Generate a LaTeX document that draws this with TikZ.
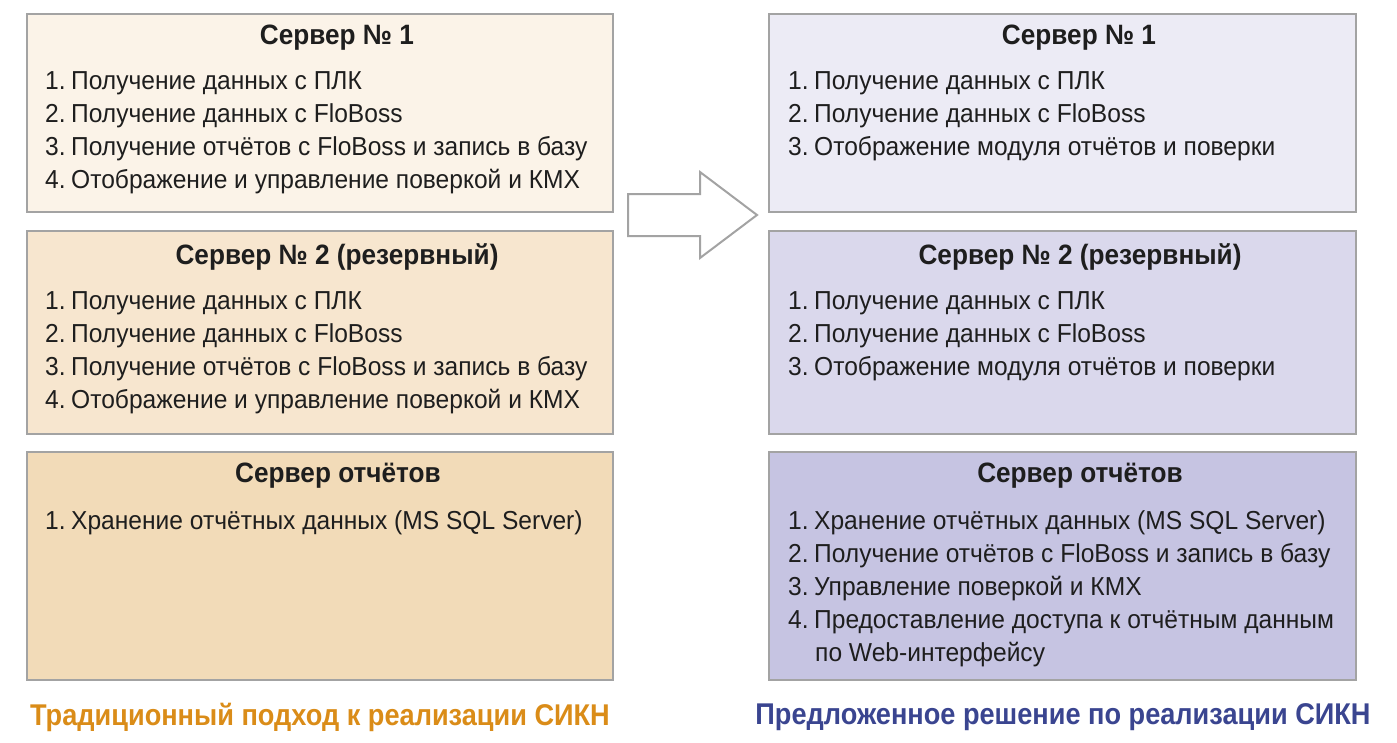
\documentclass[tikz,border=0pt]{standalone}
\usepackage{fontspec}
\setmainfont{Liberation Sans}[FakeStretch=0.945]
\newfontfamily\headfont{Liberation Sans}[FakeStretch=0.935]
\newfontfamily\legfont{Liberation Sans}[FakeStretch=0.905]
\newcommand\nsp{\hspace{5.5pt}}
\definecolor{lA}{HTML}{FBF3E8}
\definecolor{lB}{HTML}{F7E6CF}
\definecolor{lC}{HTML}{F2DBB8}
\definecolor{rA}{HTML}{ECEBF5}
\definecolor{rB}{HTML}{DAD8EC}
\definecolor{rC}{HTML}{C6C4E2}
\definecolor{frame}{HTML}{A3A3A3}
\definecolor{txt}{HTML}{1E1E1E}
\definecolor{legL}{HTML}{DA8C18}
\definecolor{legR}{HTML}{3A4590}
\begin{document}
\begin{tikzpicture}[x=1pt,y=-1pt,
  box/.style={draw=frame,line width=2pt,inner sep=0pt,outer sep=0pt},
  ttl/.style={font=\headfont\bfseries\fontsize{28}{33}\selectfont,text=txt,inner sep=0pt,anchor=center},
  itm/.style={font=\fontsize{26}{33}\selectfont,text=txt,inner sep=0pt,anchor=base west},
  leg/.style={font=\legfont\bfseries\fontsize{30}{36}\selectfont,inner sep=0pt,anchor=center}]
\useasboundingbox (0,0) rectangle (1397,742);
% left boxes
\path[box,fill=lA] (27,14) rectangle (613,212);
\path[box,fill=lB] (27,231) rectangle (613,434);
\path[box,fill=lC] (27,452) rectangle (613,680);
% right boxes
\path[box,fill=rA] (769,14) rectangle (1356,212);
\path[box,fill=rB] (769,231) rectangle (1356,434);
\path[box,fill=rC] (769,452) rectangle (1356,680);
% arrow
\draw[frame,line width=2pt,fill=white,line join=miter]
  (628,194) -- (700,194) -- (700,172) -- (757,215) -- (700,258) -- (700,236) -- (628,236) -- cycle;
% left column texts
\node[ttl] (lt1) at (337,38) {Сервер № 1};
\node[itm] (l11) at (45,89.5) {1.\nsp Получение данных с ПЛК};
\node[itm] (l12) at (45,122.5) {2.\nsp Получение данных с FloBoss};
\node[itm] (l13) at (45,155.5) {3.\nsp Получение отчётов с FloBoss и запись в базу};
\node[itm] (l14) at (45,188.5) {4.\nsp Отображение и управление поверкой и КМХ};
\node[ttl] (lt2) at (337,257) {Сервер № 2 (резервный)};
\node[itm] (l21) at (45,309.5) {1.\nsp Получение данных с ПЛК};
\node[itm] (l22) at (45,342.5) {2.\nsp Получение данных с FloBoss};
\node[itm] (l23) at (45,375.5) {3.\nsp Получение отчётов с FloBoss и запись в базу};
\node[itm] (l24) at (45,408.5) {4.\nsp Отображение и управление поверкой и КМХ};
\node[ttl] (lt3) at (338,476) {Сервер отчётов};
\node[itm] (l31) at (45,529.5) {1.\nsp Хранение отчётных данных (MS SQL Server)};
% right column texts
\node[ttl] (rt1) at (1079,38) {Сервер № 1};
\node[itm] (r11) at (788,89.5) {1.\nsp Получение данных с ПЛК};
\node[itm] (r12) at (788,122.5) {2.\nsp Получение данных с FloBoss};
\node[itm] (r13) at (788,155.5) {3.\nsp Отображение модуля отчётов и поверки};
\node[ttl] (rt2) at (1080,257) {Сервер № 2 (резервный)};
\node[itm] (r21) at (788,309.5) {1.\nsp Получение данных с ПЛК};
\node[itm] (r22) at (788,342.5) {2.\nsp Получение данных с FloBoss};
\node[itm] (r23) at (788,375.5) {3.\nsp Отображение модуля отчётов и поверки};
\node[ttl] (rt3) at (1080,476) {Сервер отчётов};
\node[itm] (r31) at (788,529.5) {1.\nsp Хранение отчётных данных (MS SQL Server)};
\node[itm] (r32) at (788,562.5) {2.\nsp Получение отчётов с FloBoss и запись в базу};
\node[itm] (r33) at (788,595.5) {3.\nsp Управление поверкой и КМХ};
\node[itm] (r34) at (788,628.5) {4.\nsp Предоставление доступа к отчётным данным};
\node[itm] (r35) at (815,661.5) {по Web-интерфейсу};
% legends
\node[leg,text=legL] (legl) at (320,717) {Традиционный подход к реализации СИКН};
\node[leg,text=legR] (legr) at (1063,717) {Предложенное решение по реализации СИКН};
\end{tikzpicture}
\end{document}
